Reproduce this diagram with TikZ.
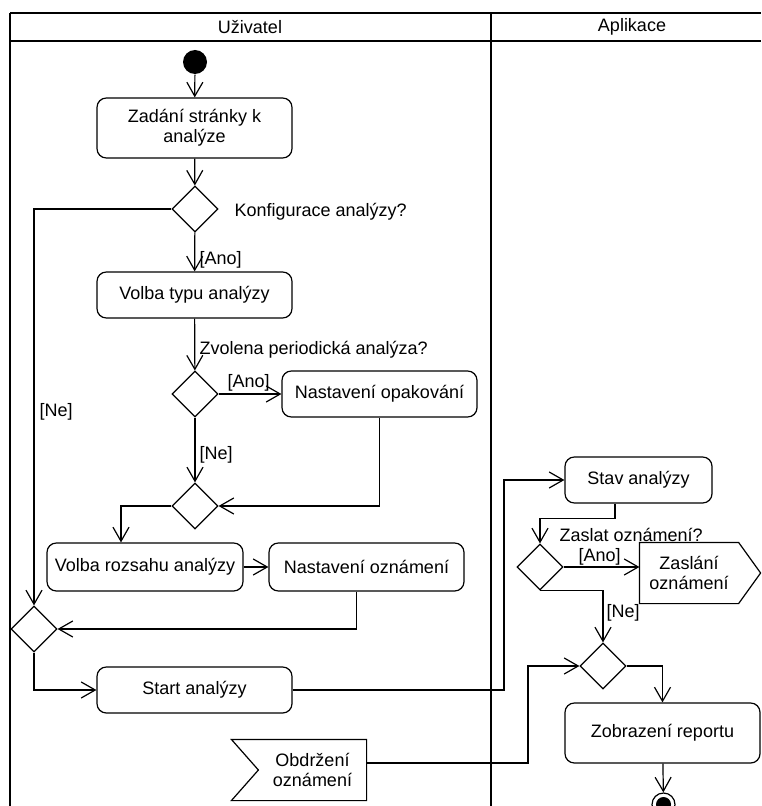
\documentclass[tikz,border=0pt]{standalone}
\usepackage{fontspec}
\setmainfont{Liberation Sans}
\usetikzlibrary{arrows.meta,shapes.geometric}

\tikzset{every picture/.style={line width=0.9pt}}
\tikzset{
  flow/.style={draw, -{Straight Barb[length=10.5pt,width=12pt]}},
  action/.style={draw, rounded corners=7pt, inner sep=2pt, minimum width=146.25pt, minimum height=34.5pt, align=center},
  decision/.style={draw, diamond, inner sep=0pt, minimum width=34.5pt, minimum height=34.5pt},
  guard/.style={anchor=west, inner sep=0.75pt},
  lanelabel/.style={inner sep=0.75pt},
  sigbody/.style={inner sep=2pt, align=center},
}

\begin{document}
\begin{tikzpicture}[x=0.75pt,y=0.75pt,yscale=-1,xscale=1,
    every node/.append style={font=\fontsize{13.5}{15}\selectfont}]
    \useasboundingbox (0,0) rectangle (761,806);

    %Swimlanes
    \draw (10,13) -- (761,13);
    \draw (10,41) -- (761,41);
    \draw (10,13) -- (10,806);
    \draw (491,13) -- (491,806);
    \node[lanelabel] (uzivatel) at (250,27) {Uživatel};
    \node[lanelabel] (aplikace) at (632,27) {Aplikace};

    %Lane: Uzivatel
    \node[circle, fill=black, inner sep=0pt, minimum size=18pt] (start) at (195,62) {};
    \node[action, minimum height=45pt] (zadani) at (194.5,128) {Zadání stránky k\\analýze};
    \node[decision] (konf) at (195,209) {};
    \node[action] (typ) at (194.5,295) {Volba typu analýzy};
    \node[decision] (period) at (195,394) {};
    \node[action] (opak) at (379.5,394) {Nastavení opakování};
    \node[decision] (spoj1) at (195,506) {};
    \node[action, minimum width=147pt, minimum height=36pt] (rozsah) at (145,567) {Volba rozsahu analýzy};
    \node[action, minimum height=36pt] (oznam) at (366.5,567) {Nastavení oznámení};
    \node[decision] (spoj2) at (34,629) {};
    \node[action] (startan) at (194.5,690) {Start analýzy};
    %Shape: Accept signal
    \node[sigbody, minimum width=80.25pt, minimum height=45pt] (obdrz) at (312.5,770) {Obdržení\\oznámení};
    \draw ([xshift=-20.25pt]obdrz.north west) -- (obdrz.north east) -- (obdrz.south east)
      -- ([xshift=-20.25pt]obdrz.south west) -- (obdrz.west) -- cycle;

    %Lane: Aplikace
    \node[action, minimum width=110.25pt] (stav) at (638.5,480) {Stav analýzy};
    \node[decision] (zaslat) at (540,567) {};
    %Shape: Send signal
    \node[sigbody, minimum width=73.5pt, minimum height=45pt] (zaslani) at (689,573) {Zaslání\\oznámení};
    \draw (zaslani.north west) -- (zaslani.north east) -- ([xshift=16.5pt]zaslani.east)
      -- (zaslani.south east) -- (zaslani.south west) -- cycle;
    \node[decision] (spoj3) at (603,666) {};
    \node[action, minimum height=45pt] (zobr) at (662.5,733) {Zobrazení reportu};
    \node[circle, draw, fill=white, inner sep=0pt, minimum size=17.25pt] (konec) at (663.5,804.5) {};
    \fill (konec.center) circle[radius=7.5];

    % Text Node
    \node[guard] (konfq) at (233,212) {Konfigurace analýzy?};
    \node[guard] (konfano) at (198,260) {[Ano]};
    \node[guard] (konfne) at (38,412) {[Ne]};
    \node[guard] (periodq) at (198,350) {Zvolena periodická analýza?};
    \node[guard] (periodano) at (226,383) {[Ano]};
    \node[guard] (periodne) at (198,455) {[Ne]};
    \node[guard] (zaslatq) at (558,535) {Zaslat oznámení?};
    \node[guard] (zaslatano) at (577,557) {[Ano]};
    \node[guard] (zaslatne) at (605,613) {[Ne]};

    %Connectors
    \draw[flow] (start) -- (zadani);
    \draw[flow] (zadani) -- (konf);
    \draw[flow] (konf) -- (typ);
    \draw[flow] (konf.west) -| (spoj2.north);
    \draw[flow] (typ) -- (period);
    \draw[flow] (period) -- (opak);
    \draw[flow] (period) -- (spoj1);
    \draw[flow] (opak.south) |- (spoj1.east);
    \draw[flow] (spoj1.west) -| ([xshift=-18pt]rozsah.north);
    \draw[flow] (rozsah) -- (oznam);
    \draw[flow] ([xshift=-7.5pt]oznam.south) |- (spoj2.east);
    \draw[flow] (spoj2.south) |- (startan.west);
    \coordinate (ohyb1) at (504,600);
    \draw[flow] (startan.east) -| (ohyb1) |- (stav.west);
    \draw[flow] ([xshift=-17.6pt]stav.south) -- ++(0,15) -| (zaslat.north);
    \draw[flow] (zaslat.east) -- (zaslat.east -| zaslani.west);
    \draw[flow] (zaslat.south) -| (spoj3.north);
    \coordinate (ohyb2) at (528,720);
    \draw[flow] ([yshift=-5.25pt]obdrz.east) -| (ohyb2) |- (spoj3.west);
    \draw[flow] (spoj3.east) -| (zobr.north);
    \draw[flow] (zobr) -- (konec);

\end{tikzpicture}
\end{document}
